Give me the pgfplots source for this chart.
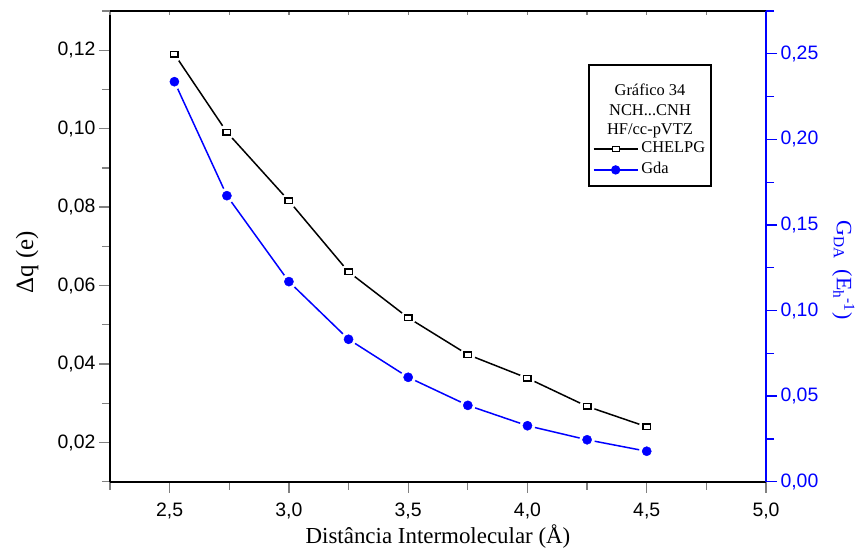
\documentclass[border=0pt]{standalone}
\usepackage{fontspec}
\setmainfont{Liberation Serif}
\newfontfamily\arial{Liberation Sans}
\usepackage{pgfplots}
\usepackage{pgfplotstable}
\pgfplotsset{compat=1.18}

% charge transfer (CHELPG) against intermolecular distance
\pgfplotstableread{
x q
2.52 0.1190
2.74 0.0991
3.00 0.0816
3.25 0.0635
3.50 0.0518
3.75 0.0424
4.00 0.0364
4.25 0.0292
4.50 0.0240
}\chelpg

% donor-acceptor hardness G_DA against intermolecular distance
\pgfplotstableread{
x g
2.52 0.2337
2.74 0.1671
3.00 0.1169
3.25 0.0832
3.50 0.0610
3.75 0.0446
4.00 0.0327
4.25 0.0245
4.50 0.0178
}\gda

\pgfplotsset{
  base/.style={
    scale only axis, width=656bp, height=470.7bp,
    xmin=2.25, xmax=5,
    axis line style={line width=1.6bp},
    every tick/.append style={line width=1.3bp},
    major tick length=11bp, minor tick length=8bp,
    tick align=outside,
    /pgf/number format/assume math mode=true,
    /pgf/number format/use comma,
    /pgf/number format/fixed,
    /pgf/number format/fixed zerofill,
    ticklabel style={font=\arial\fontsize{19.5}{22}\selectfont},
    clip=false,
  },
}

\begin{document}
\begin{tikzpicture}
% left axis and bottom axis
\begin{axis}[base,
  ymin=0.01, ymax=0.13,
  axis x line*=bottom, axis y line*=left,
  xtick={2.5,3.0,3.5,4.0,4.5,5.0},
  minor xtick={2.25,2.75,3.25,3.75,4.25,4.75},
  ytick={0.02,0.04,0.06,0.08,0.10,0.12},
  minor ytick={0.01,0.03,0.05,0.07,0.09,0.11,0.13},
  xticklabel style={yshift=-7bp, /pgf/number format/.cd, fixed, fixed zerofill, precision=1},
  yticklabel style={/pgf/number format/.cd, fixed, fixed zerofill, precision=2},
  xlabel={Distância Intermolecular (Å)},
  ylabel={Δq (e)},
  every axis x label/.style={at={(rel axis cs:0.5,0)}, anchor=base, yshift=-62bp,
    font=\fontsize{23}{26}\selectfont},
  every axis y label/.style={at={(rel axis cs:-0.1265,0.467)}, anchor=center, rotate=90,
    font=\fontsize{25}{28}\selectfont},
]
\coordinate (BL) at (rel axis cs:0,0);
\coordinate (TR) at (rel axis cs:1,1);
\addplot[black, line width=1.5bp] table[x=x, y=q]{\chelpg};
\addplot[only marks, mark=*, white, mark size=7.5bp] table[x=x, y=q]{\chelpg};
\addplot[only marks, mark=square*, mark size=2.7bp, mark options={xscale=1.4},
  draw=black, fill=white, line width=1.5bp] table[x=x, y=q]{\chelpg};
\end{axis}

% top frame line with short inward ticks
\begin{axis}[base,
  ymin=0, ymax=1,
  axis x line*=top, axis y line=none,
  xtick={2.5,3.0,3.5,4.0,4.5,5.0},
  minor xtick={2.25,2.75,3.25,3.75,4.25,4.75},
  xticklabels={},
  tick align=inside, major tick length=4bp, minor tick length=4bp,
]
\end{axis}

% right axis for G_DA
\begin{axis}[base,
  ymin=0, ymax=0.275,
  axis x line=none, axis y line*=right,
  ytick={0,0.05,0.10,0.15,0.20,0.25},
  minor ytick={0.025,0.075,0.125,0.175,0.225,0.275},
  y axis line style={blue},
  y tick style={blue},
  yticklabel style={blue, /pgf/number format/.cd, fixed, fixed zerofill, precision=2},
  ylabel={G\textsubscript{DA}\ \ (E\textsubscript{h}\textsuperscript{-1})},
  every axis y label/.style={at={(rel axis cs:1.118,0.45)}, anchor=center, rotate=-90,
    blue, font=\fontsize{22}{26}\selectfont},
  legend image code/.code={\draw[mark repeat=2, mark phase=2] plot coordinates {(0bp,0bp) (22bp,0bp) (44bp,0bp)};},
  legend cell align=left,
  legend style={draw=none, fill=none, inner sep=0pt, outer sep=0pt,
    at={(rel axis cs:0.7363,0.724)}, anchor=north west,
    font=\fontsize{16.5}{20}\selectfont, row sep=5bp, column sep=3bp,
    nodes={inner sep=0pt, text height=12bp, text depth=4bp}},
]
\addlegendimage{black, line width=1.3bp, mark=square*, mark size=2.5bp, mark options={fill=white, solid, xscale=1.4}}
\addlegendentry{CHELPG}
\addplot[blue, line width=1.5bp, forget plot] table[x=x, y=g]{\gda};
\addplot[only marks, mark=*, white, mark size=7.5bp, forget plot] table[x=x, y=g]{\gda};
\addplot[only marks, mark=*, blue, mark size=4.6bp, forget plot] table[x=x, y=g]{\gda};
\addlegendimage{blue, line width=1.3bp, mark=*, mark size=4bp}
\addlegendentry{Gda}
% legend frame and its heading lines
\draw[black, line width=1.3bp] (rel axis cs:0.730,0.628) rectangle (rel axis cs:0.916,0.885);
\node[anchor=base, font=\fontsize{16.5}{20}\selectfont] at (rel axis cs:0.8232,0.8200) {Gráfico 34};
\node[anchor=base, font=\fontsize{16.5}{20}\selectfont] at (rel axis cs:0.8232,0.7790) {NCH...CNH};
\node[anchor=base, font=\fontsize{16.5}{20}\selectfont] at (rel axis cs:0.8232,0.7367) {HF/cc-pVTZ};
\end{axis}

\pgfresetboundingbox
\path[use as bounding box] ([shift={(-110bp,-74bp)}]BL) rectangle ([shift={(98bp,11bp)}]TR);
\end{tikzpicture}
\end{document}
